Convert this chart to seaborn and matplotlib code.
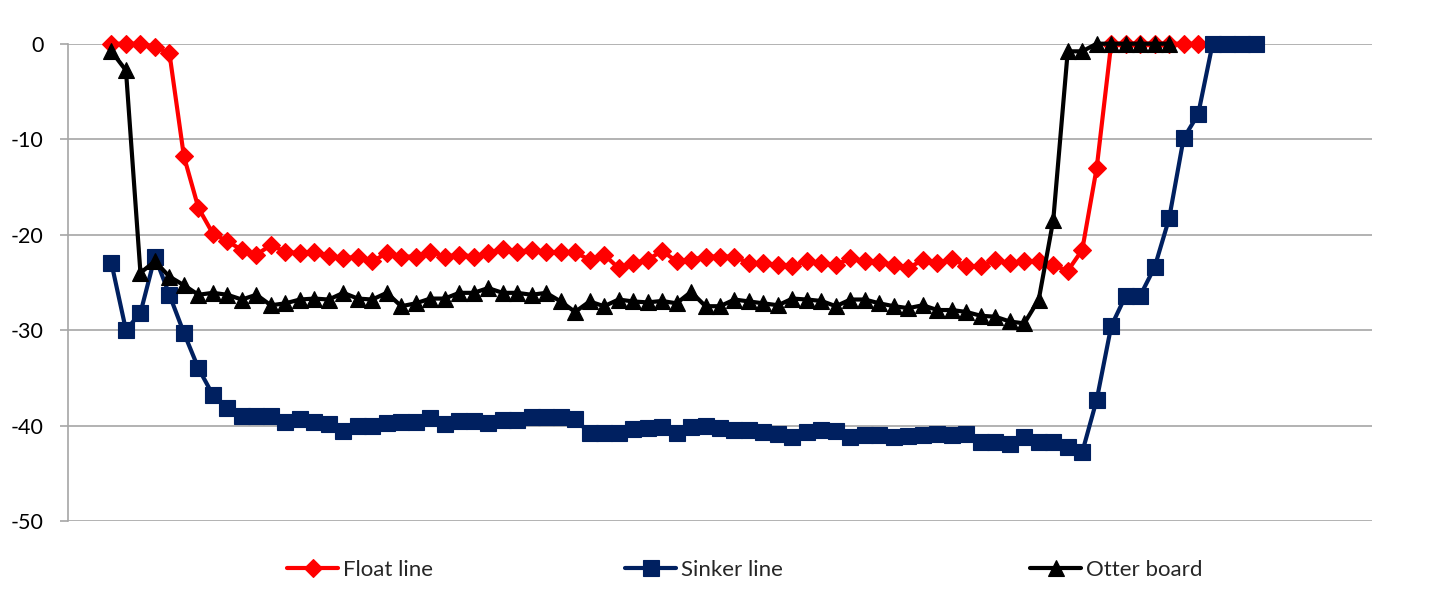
import matplotlib
matplotlib.use("Agg")
import matplotlib.pyplot as plt
import seaborn as sns
import pandas as pd
import numpy as np

# ---- data ----
float_line = [0, 0, 0, -0.3, -1.0, -11.8, -17.2, -19.9, -20.7, -21.6, -22.1, -21.1, -21.8,
              -21.95, -21.8, -22.2, -22.5, -22.3, -22.8, -21.95, -22.3, -22.3, -21.8, -22.3, -22.1, -22.3, -21.9,
              -21.5, -21.8, -21.6, -21.8, -21.85, -21.85, -22.65, -22.1, -23.5, -23.0, -22.65, -21.7, -22.8,
              -22.65, -22.3, -22.3, -22.3, -23.0, -23.0, -23.15, -23.3, -22.75, -23.0, -23.15, -22.5, -22.75, -22.9,
              -23.15, -23.5, -22.65, -23.0, -22.55, -23.3, -23.3, -22.65, -23.0, -22.8, -22.8, -23.2, -23.8,
              -21.6, -13.0, 0, 0, 0, 0, 0, 0, 0]

sinker_line = [-23.0, -30.0, -28.2, -22.3, -26.3, -30.3, -34.0, -36.8, -38.2, -39.0, -39.0, -39.0, -39.6,
               -39.3, -39.6, -39.8, -40.6, -40.1, -40.0, -39.75, -39.6, -39.6, -39.2, -39.8, -39.5, -39.5, -39.7,
               -39.4, -39.4, -39.1, -39.1, -39.15, -39.3, -40.8, -40.8, -40.8, -40.4, -40.3, -40.2, -40.8,
               -40.2, -40.1, -40.3, -40.45, -40.45, -40.7, -40.9, -41.15, -40.7, -40.45, -40.6, -41.15, -41.0, -41.0,
               -41.25, -41.05, -40.97, -40.9, -40.97, -40.9, -41.7, -41.7, -41.95, -41.25, -41.7, -41.7, -42.2, -42.8,
               -37.3, -29.6, -26.4, -26.4, -23.4, -18.3, -9.9, -7.4, 0, 0, 0, 0]

otter_board = [-0.8, -2.8, -24.0, -22.8, -24.4, -25.3, -26.3, -26.1, -26.3, -26.8, -26.3, -27.4, -27.2,
               -26.8, -26.7, -26.8, -26.1, -26.7, -26.8, -26.1, -27.5, -27.2, -26.7, -26.7, -26.1, -26.1, -25.6,
               -26.1, -26.1, -26.3, -26.1, -27.0, -28.1, -27.0, -27.5, -26.8, -27.0, -27.1, -26.95, -27.2,
               -26.0, -27.5, -27.5, -26.8, -27.0, -27.2, -27.4, -26.7, -26.8, -26.95, -27.5, -26.8, -26.8,
               -27.2, -27.5, -27.7, -27.4, -27.9, -27.9, -28.1, -28.5, -28.6, -29.1, -29.3,
               -26.8, -18.5, -0.8, -0.8, 0, 0, 0, 0, 0, 0]

series_names = ["Float line", "Sinker line", "Otter board"]
series_values = [float_line, sinker_line, otter_board]
series_colors = ["#FF0000", "#002060", "#000000"]
series_markers = ["D", "s", "^"]
marker_sizes = [9.0, 11.0, 12.0]

y_ticks = [0, -10, -20, -30, -40, -50]

# ---- figure ----
sns.set_theme(style="white")
plt.rcParams["font.family"] = ["Lato", "DejaVu Sans"]

W, H = 1431, 595
fig = plt.figure(figsize=(W / 100, H / 100), dpi=100)
ax = fig.add_axes([68 / W, 1 - 521 / H, (1372 - 68) / W, (521 - 43.7) / H])

for name, vals, col, mk, ms in zip(series_names, series_values, series_colors, series_markers, marker_sizes):
    df = pd.DataFrame({"x": np.arange(len(vals)), "y": vals})
    sns.lineplot(data=df, x="x", y="y", ax=ax, color=col, marker=mk, markersize=ms,
                 markeredgecolor=col, markeredgewidth=0.8, linewidth=3, sort=False,
                 estimator=None, label=name, clip_on=False)

ax.set_xlim(-3, 87)
ax.set_ylim(-50, 0)
ax.set_yticks(y_ticks)
ax.set_yticklabels([str(t) for t in y_ticks])
ax.set_xticks([])
ax.set_xlabel("")
ax.set_ylabel("")

grid_col = "#A6A6A6"
ax.yaxis.grid(True, color=grid_col, linewidth=1.2)
ax.xaxis.grid(False)
ax.set_axisbelow(True)
for s in ["top", "right", "bottom"]:
    ax.spines[s].set_visible(False)
ax.spines["left"].set_color(grid_col)
ax.spines["left"].set_linewidth(1.2)
ax.tick_params(axis="y", which="major", left=True, length=5.5, width=1.2, color=grid_col,
               pad=12, labelsize=15.5, labelcolor="#000000")

ax.get_legend().remove()
handles, labels = ax.get_legend_handles_labels()
legend_x_px = [287, 625, 1030]
for h, l, xp in zip(handles, labels, legend_x_px):
    fig.legend([h], [l], loc="center left", bbox_to_anchor=(xp / W, 1 - 570 / H),
               frameon=False, fontsize=16, handlelength=2.3, handletextpad=0.2,
               borderpad=0, borderaxespad=0, numpoints=1)

fig.savefig("out.png", dpi=100, facecolor="white")
